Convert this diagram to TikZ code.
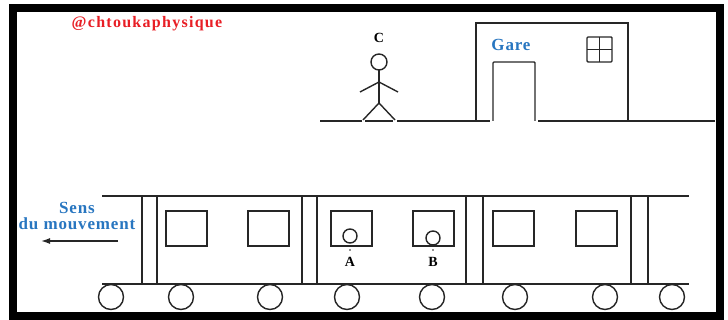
\documentclass[tikz,border=0pt]{standalone}
\usepackage{fontspec}
\setmainfont{Liberation Serif}
\usepackage{tikz}
\usetikzlibrary{arrows.meta}

\definecolor{rougetag}{RGB}{232,30,37}
\definecolor{bleugare}{RGB}{40,118,192}

\tikzset{
	trait/.style={line width=1.4pt, black!85},
	roue/.style={draw, circle, line width=1.4pt, black!85, minimum size=25pt, inner sep=0pt},
	lettre/.style={inner sep=0pt, font=\fontsize{14}{14}\selectfont\bfseries},
	bleu/.style={inner sep=0pt, align=center, text=bleugare,
		font=\fontsize{17}{16}\selectfont\bfseries\addfontfeature{LetterSpace=5}}
}

\begin{document}
\begin{tikzpicture}[x=1pt, y=-1pt]
	\useasboundingbox (0,0) rectangle (728,320);
	% cadre
	\draw[line width=8pt] (13,8.5) rectangle (720,316);

	\node[inner sep=0pt, text=rougetag, font=\fontsize{16}{16}\selectfont\bfseries\addfontfeature{LetterSpace=8}] (tag) at (147,24) {@chtoukaphysique};

	% quai (coupé aux pieds et a la porte)
	\draw[trait] (320,121) -- (362,121);
	\draw[trait] (365,121) -- (393,121);
	\draw[trait] (397,121) -- (490,121);
	\draw[trait] (538,121) -- (715,121);

	% observateur C
	\draw[trait] (379,62) circle[radius=8pt];
	\draw[trait] (379,70) -- (379,103);
	\draw[trait] (360,92) -- (379,82) -- (398,92);
	\draw[trait] (363,120) -- (379,103) -- (395,120);
	\node[lettre] (C) at (379,38) {C};

	% gare
	\draw[trait] (476,121) -- (476,23) -- (628,23) -- (628,121);
	\draw[trait, rounded corners=1pt] (493,121) -- (493,62) -- (535,62) -- (535,121);
	\draw[trait, rounded corners=1pt] (587,37) rectangle (612,62);
	\draw[trait] (599.5,37) -- (599.5,62);
	\draw[trait] (587,49.5) -- (612,49.5);
	\node[bleu] (gare) at (511,45) {Gare};

	% train
	\draw[trait] (102,196) -- (689,196);
	\draw[trait] (102,284) -- (689,284);
	\foreach \x in {142,157,302,317,466,483,631,648}
		\draw[trait] (\x,196) -- (\x,284);
	\foreach \x in {166,248,331,413,493,576}
		\draw[trait] (\x,211) rectangle ++(41,35);
	\foreach \x [count=\i] in {111,181,270,347,432,515,605,672}
		\node[roue] (r\i) at (\x,297) {};

	% voyageurs A et B
	\foreach \x/\y/\nom in {350/236/A, 433/238/B} {
		\draw[trait] (\x,\y) circle[radius=7pt];
		\fill[black!85] (\x,250) circle[radius=0.8pt];
		\node[lettre] (\nom) at (\x,262) {\nom};
	}

	% sens du mouvement
	\node[bleu] (sens) at (77,216) {Sens\\du mouvement};
	\coordinate (depart) at (118,241);
	\coordinate (fin) at (41,241);
	\draw[trait, -{Latex[length=9pt,width=6pt]}] (depart) -- (fin);
\end{tikzpicture}
\end{document}
